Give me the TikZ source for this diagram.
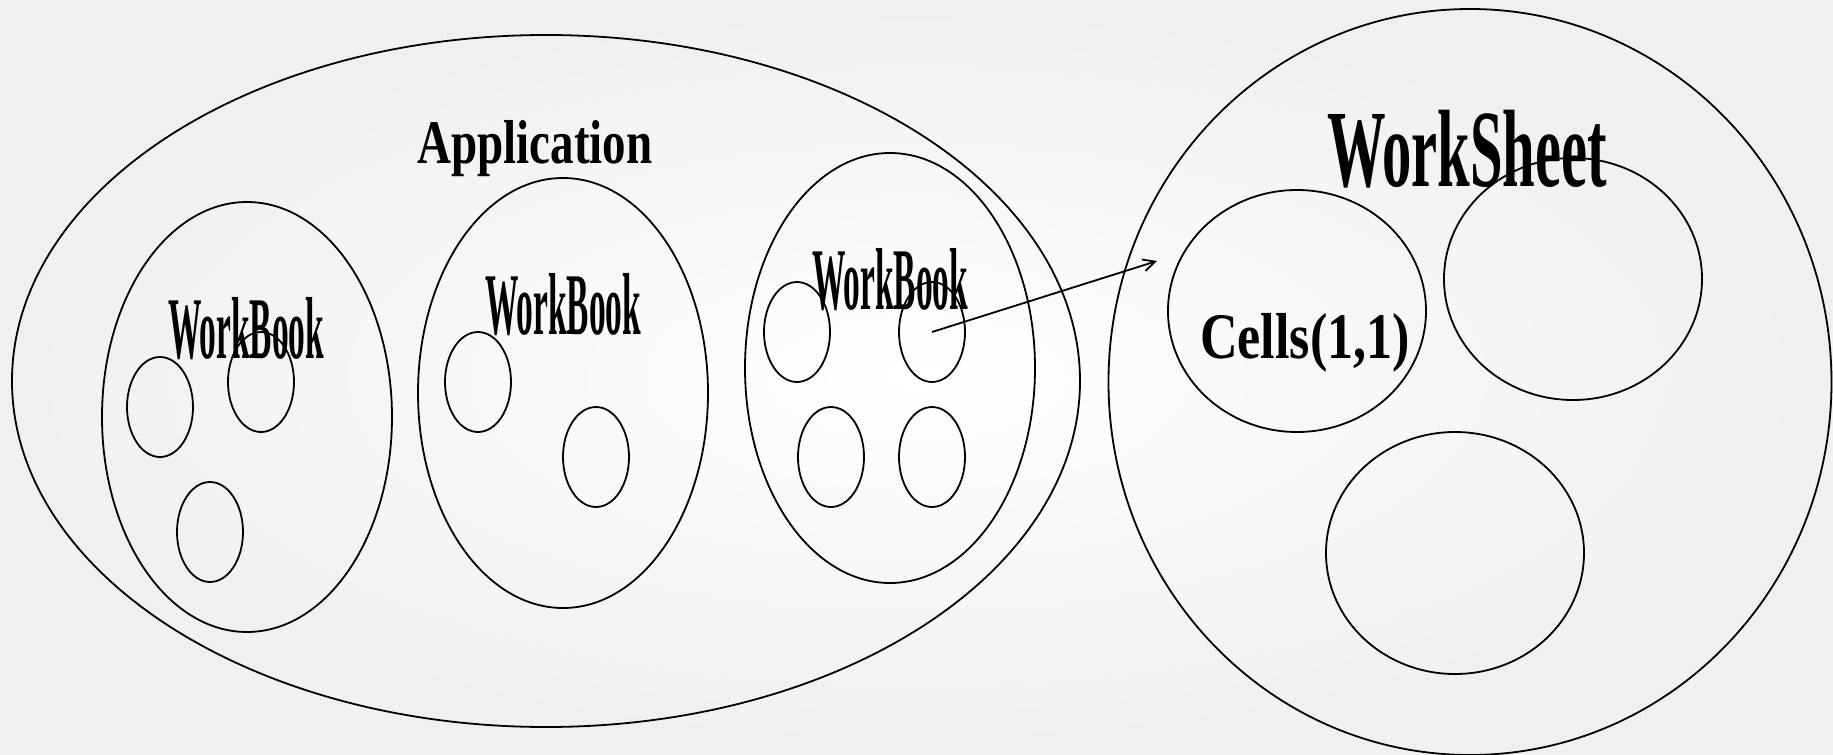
\documentclass[tikz,border=0pt]{standalone}
\usepackage{fontspec}
\setmainfont{Liberation Serif}
\usetikzlibrary{shapes.geometric,arrows.meta}
% set a word in bold, squeezed to a given width at its natural height
\newcommand{\squeezed}[2]{\resizebox{#1}{\height}{\bfseries #2}}
\begin{document}
\begin{tikzpicture}[x=0.5pt,y=-0.5pt,
  oval/.style={ellipse,draw,line width=0.9pt,inner sep=0pt,outer sep=0pt},
  apposs/.style={oval,minimum width=534pt,minimum height=346pt},
  bookoval/.style={oval,minimum width=145pt,minimum height=215pt},
  itemoval/.style={oval,minimum width=33pt,minimum height=50pt},
  sheetoval/.style={oval,minimum width=361.5pt,minimum height=373pt},
  celloval/.style={oval,minimum width=129pt,minimum height=121pt},
  label/.style={anchor=base,inner sep=0pt},
  link/.style={line width=0.9pt,-{Straight Barb[length=6pt,width=6pt]}}
]
% page background
\fill[inner color=white,outer color=black!6] (0,0) rectangle (1833,755);
\useasboundingbox (0,0) rectangle (1833,755);

% application with its workbooks
\node[apposs] (app) at (546,381) {};
\node[bookoval] (wb1) at (247,417) {};
\node[bookoval] (wb2) at (563,393) {};
\node[bookoval] (wb3) at (890,368) {};

\node[itemoval] (s11) at (160,407) {};
\node[itemoval] (s12) at (261,382) {};
\node[itemoval] (s13) at (210,532) {};

\node[itemoval] (s21) at (478,382) {};
\node[itemoval] (s22) at (596,457) {};

\node[itemoval] (s31) at (797,332) {};
\node[itemoval] (s32) at (932,332) {};
\node[itemoval] (s33) at (831,457) {};
\node[itemoval] (s34) at (932,457) {};

% worksheet with its cells
\node[sheetoval] (ws) at (1470,382) {};
\node[celloval] (c1) at (1297,311) {};
\node[celloval] (c2) at (1573,279) {};
\node[celloval] (c3) at (1455,553) {};

% labels
\node[label,font=\fontsize{31}{31}\selectfont] (tapp) at (535,163) {\squeezed{117.5pt}{Application}};
\node[label,font=\fontsize{44}{44}\selectfont] (twb1) at (246,358) {\squeezed{78pt}{WorkBook}};
\node[label,font=\fontsize{44}{44}\selectfont] (twb2) at (563,334) {\squeezed{78pt}{WorkBook}};
\node[label,font=\fontsize{44}{44}\selectfont] (twb3) at (890,309) {\squeezed{78pt}{WorkBook}};
\node[label,font=\fontsize{55}{55}\selectfont] (tws) at (1467,186) {\squeezed{140pt}{WorkSheet}};
\node[label,font=\fontsize{32.5}{32.5}\selectfont] (tc1) at (1305,358) {\squeezed{105pt}{Cells(1,1)}};

% reference from a workbook item to a worksheet
\coordinate (tip) at (1157,261);
\draw[link] (s32.center) -- (tip);
\end{tikzpicture}
\end{document}
